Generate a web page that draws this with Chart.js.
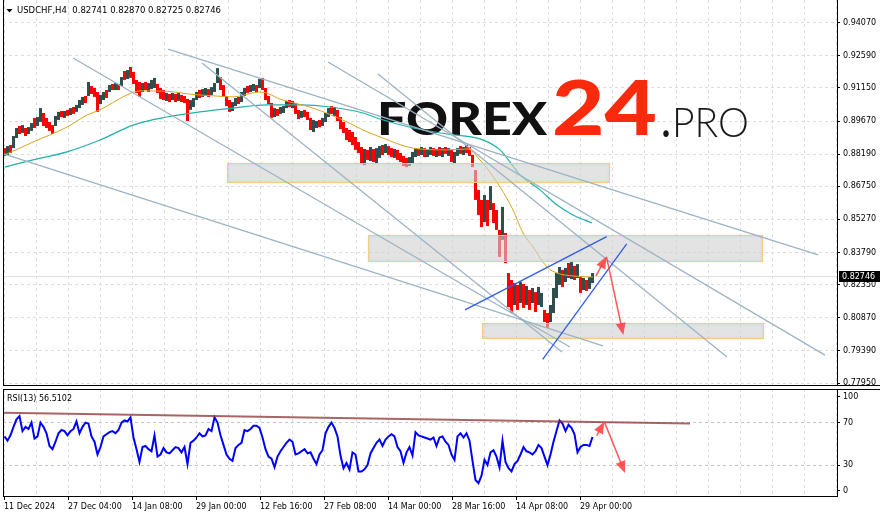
<!DOCTYPE html>
<html>
<head>
<meta charset="utf-8">
<script src="https://cdn.jsdelivr.net/npm/chart.js@4.4.1/dist/chart.umd.min.js"></script>
<style>
  html, body { margin: 0; padding: 0; background: #fff; }
  #wrap { position: relative; width: 883px; height: 518px; overflow: hidden; }
  canvas { position: absolute; left: 0; }
  #main { top: 0; }
  #rsi { top: 386px; }
</style>
</head>
<body>
<div id="wrap">
  <canvas id="main" width="883" height="388"></canvas>
  <canvas id="rsi" width="883" height="132"></canvas>
</div>
<script>
// USDCHF H4 - one slot = 3 H4 bars
const headerText = 'USDCHF,H4  0.82741 0.82870 0.82725 0.82746';
const rsiTitle = 'RSI(13) 56.5102';
const lastPrice = 0.82746;
const barsPerSlot = 3;

const timeLabels = ['11 Dec 2024', '27 Dec 04:00', '14 Jan 08:00', '29 Jan 00:00', '12 Feb 16:00',
  '27 Feb 08:00', '14 Mar 00:00', '28 Mar 16:00', '14 Apr 08:00', '29 Apr 00:00'];
const priceTicks = [0.94070, 0.92590, 0.91150, 0.89670, 0.88190, 0.86750, 0.85270, 0.83790,
  0.82350, 0.80870, 0.79390, 0.77950];
const rsiLevels = [100, 70, 30, 0];

const highs = [
  0.8846,0.8855,0.8860,0.8900,0.8936,0.8945,0.8949,0.8936,0.8940,0.8958,
  0.8981,0.8985,0.9025,0.9003,0.8981,0.8963,0.8949,0.8990,0.9008,0.9012,
  0.9012,0.9017,0.9025,0.9030,0.9039,0.9061,0.9075,0.9079,0.9142,0.9124,
  0.9115,0.9097,0.9084,0.9097,0.9106,0.9128,0.9133,0.9137,0.9133,0.9164,
  0.9191,0.9195,0.9209,0.9187,0.9151,0.9142,0.9137,0.9142,0.9137,0.9151,
  0.9160,0.9133,0.9115,0.9106,0.9093,0.9088,0.9093,0.9088,0.9093,0.9084,
  0.9079,0.9066,0.9061,0.9070,0.9097,0.9106,0.9110,0.9115,0.9110,0.9119,
  0.9137,0.9204,0.9164,0.9128,0.9079,0.9061,0.9052,0.9070,0.9075,0.9097,
  0.9115,0.9124,0.9128,0.9133,0.9128,0.9155,0.9160,0.9115,0.9079,0.9048,
  0.9025,0.9021,0.9030,0.9034,0.9057,0.9061,0.9057,0.9048,0.9017,0.9012,
  0.9017,0.9008,0.8981,0.8972,0.8967,0.8972,0.8981,0.9003,0.9025,0.9034,
  0.9030,0.9017,0.8985,0.8963,0.8936,0.8927,0.8918,0.8896,0.8873,0.8851,
  0.8842,0.8838,0.8851,0.8842,0.8846,0.8855,0.8860,0.8864,0.8855,0.8846,
  0.8842,0.8838,0.8824,0.8811,0.8802,0.8806,0.8829,0.8846,0.8842,0.8851,
  0.8846,0.8842,0.8851,0.8846,0.8842,0.8851,0.8846,0.8851,0.8846,0.8838,
  0.8829,0.8846,0.8855,0.8851,0.8860,0.8851,0.8815,0.8748,0.8659,0.8614,
  0.8636,0.8614,0.8676,0.8600,0.8569,0.8480,0.8583,0.8466,0.8287,0.8256,
  0.8242,0.8234,0.8247,0.8238,0.8229,0.8211,0.8220,0.8202,0.8225,0.8198,
  0.8122,0.8108,0.8144,0.8220,0.8287,0.8314,0.8301,0.8310,0.8332,0.8336,
  0.8319,0.8327,0.8269,0.8265,0.8256,0.8269,0.8287];
const lows = [
  0.8811,0.8815,0.8824,0.8846,0.8891,0.8909,0.8914,0.8900,0.8909,0.8923,
  0.8936,0.8945,0.8963,0.8945,0.8936,0.8923,0.8909,0.8945,0.8972,0.8985,
  0.8981,0.8990,0.8994,0.8999,0.9008,0.9025,0.9039,0.9048,0.9079,0.9088,
  0.9075,0.9008,0.9043,0.9061,0.9070,0.9097,0.9106,0.9106,0.9106,0.9124,
  0.9151,0.9155,0.9160,0.9133,0.9093,0.9075,0.9097,0.9106,0.9097,0.9110,
  0.9115,0.9093,0.9066,0.9061,0.9057,0.9052,0.9061,0.9052,0.9057,0.9052,
  0.9048,0.8967,0.9017,0.9030,0.9061,0.9070,0.9075,0.9079,0.9075,0.9084,
  0.9097,0.9137,0.9106,0.9075,0.9034,0.9008,0.9012,0.9034,0.9043,0.9052,
  0.9079,0.9093,0.9097,0.9102,0.9097,0.9115,0.9106,0.9061,0.9043,0.8981,
  0.8985,0.8990,0.8999,0.9003,0.9025,0.9030,0.9025,0.8999,0.8976,0.8981,
  0.8985,0.8972,0.8927,0.8918,0.8936,0.8940,0.8945,0.8963,0.8985,0.8999,
  0.8990,0.8967,0.8931,0.8914,0.8882,0.8873,0.8860,0.8838,0.8824,0.8779,
  0.8770,0.8793,0.8788,0.8784,0.8779,0.8802,0.8815,0.8824,0.8815,0.8806,
  0.8802,0.8793,0.8784,0.8766,0.8761,0.8766,0.8779,0.8806,0.8811,0.8815,
  0.8806,0.8806,0.8815,0.8811,0.8806,0.8811,0.8806,0.8820,0.8811,0.8784,
  0.8779,0.8811,0.8820,0.8815,0.8824,0.8811,0.8761,0.8614,0.8547,0.8493,
  0.8515,0.8497,0.8569,0.8511,0.8480,0.8359,0.8435,0.8332,0.8135,0.8108,
  0.8144,0.8122,0.8153,0.8131,0.8144,0.8122,0.8153,0.8113,0.8144,0.8135,
  0.8068,0.8041,0.8068,0.8108,0.8175,0.8234,0.8225,0.8247,0.8265,0.8260,
  0.8256,0.8265,0.8198,0.8211,0.8207,0.8216,0.8242];
// u = bull (dark), d = bear (red)
const candleDir =
  'duduududuu' + 'duudddduud' + 'ududuuudud' + 'dduudududu' + 'dudddduduu' +
  'udddududud' + 'dduuuduudu' + 'uudddduudu' + 'uduududddd' + 'uduuududdu' +
  'ddduuduuud' + 'uddddddddd' + 'ududuududd' + 'udddduuudu' + 'duudududud' +
  'uududddddd' + 'ududdduddd' + 'ududududuu' + 'dduuuududu' + 'dududuu';

const rsi = [
  57,53,58,66,73,76,62,66,64,70, 55,57,70,66,60,48,45,52,60,63,
  62,58,62,64,71,60,66,70,69,57, 52,40,47,57,59,61,62,60,63,70,
  72,71,75,56,45,33,47,48,45,43, 58,38,40,46,42,41,44,47,46,42,
  47,31,51,53,56,60,57,58,64,62, 75,70,58,49,40,36,34,46,49,51,
  63,62,64,67,67,65,56,45,38,36, 28,38,43,47,51,54,52,40,41,43,
  45,41,42,36,31,40,44,60,66,70, 65,57,39,27,32,26,42,40,24,24,
  26,30,41,46,51,54,48,54,57,59, 57,47,43,32,42,47,39,61,58,57,
  56,55,54,56,48,56,57,52,49,40, 35,57,60,56,60,53,34,16,13,20,
  35,30,42,44,38,28,53,33,27,24, 31,34,40,47,43,42,40,43,49,46,
  38,30,40,52,62,72,69,62,68,65, 59,42,47,49,49,48,56.5];

// moving averages, [bar, price]
const maFast = [[0,0.8815],[28.5,0.8873],[62.5,0.8940],[82.5,0.8994],[95.5,0.9017],[122.5,0.9084],
  [135.5,0.9102],[162.5,0.9100],[188.5,0.9086],[208.5,0.9080],[228.5,0.9075],[255.5,0.9097],
  [278.5,0.9061],[308.5,0.9025],[342.5,0.8963],[358.5,0.8927],[375.5,0.8896],[408.5,0.8846],
  [442.5,0.8838],[462.5,0.8842],[475.5,0.8793],[495.5,0.8672],[508.5,0.8569],[518.5,0.8466],
  [528.5,0.8404],[542.5,0.8314],[552.5,0.8287],[568.5,0.8274],[588.5,0.8269]];
const maSlow = [[0,0.8761],[28.5,0.8793],[62.5,0.8829],[95.5,0.8882],[128.5,0.8949],[162.5,0.8985],
  [195.5,0.9008],[228.5,0.9025],[262.5,0.9039],[295.5,0.9039],[325.5,0.9030],[358.5,0.9003],
  [375.5,0.8976],[408.5,0.8936],[442.5,0.8909],[475.5,0.8887],[495.5,0.8838],[515.5,0.8726],
  [535.5,0.8659],[552.5,0.8591],[568.5,0.8547],[587.5,0.8511]];

// drawn objects: [fromBar, price/value, toBar, price/value]
const zones = [[222, 0.8778, 605.5, 0.8689], [363.8, 0.8457, 758.2, 0.8338], [477.8, 0.8062, 759.8, 0.7991]];
const trendLines = [[-1, 0.8820, 598.5, 0.7961], [68.5, 0.9249, 565.5, 0.7956], [197.5, 0.9227, 557.5, 0.7934],
  [163.5, 0.9289, 813.5, 0.8368], [323.5, 0.9231, 820.5, 0.7920], [373.5, 0.9178, 722.5, 0.7911]];
const channelLines = [[460.5, 0.8122, 602.2, 0.8450], [538.2, 0.7901, 622.2, 0.8417]];
const priceArrows = [[591.5, 0.8274, 602, 0.8361], [602, 0.8359, 618.8, 0.8010]];
const rsiTrend = [-1, 79.3, 685.5, 69.1];
const rsiArrows = [[592.2, 57.8, 599.8, 70.9], [599.8, 70.9, 620.5, 22.5]];

const font = { family: 'DejaVu Sans', size: 8 };
const gridColor = '#dedede';
const xTicks = [];
for (let k = 0; k <= 26; k++) xTicks.push(k * 32 - 0.5);

function noPad(s) { s.paddingTop = 0; s.paddingBottom = 0; s.paddingLeft = 0; s.paddingRight = 0; }

function seg(ctx, sx, sy, l) {
  ctx.beginPath();
  ctx.moveTo(sx.getPixelForValue(l[0]), sy.getPixelForValue(l[1]));
  ctx.lineTo(sx.getPixelForValue(l[2]), sy.getPixelForValue(l[3]));
  ctx.stroke();
}

function arrow(ctx, sx, sy, l) {
  const x1 = sx.getPixelForValue(l[0]), y1 = sy.getPixelForValue(l[1]);
  const x2 = sx.getPixelForValue(l[2]), y2 = sy.getPixelForValue(l[3]);
  const a = Math.atan2(y2 - y1, x2 - x1), L = 12, W = 5;
  ctx.beginPath();
  ctx.moveTo(x1, y1);
  ctx.lineTo(x2 - Math.cos(a) * L * 0.7, y2 - Math.sin(a) * L * 0.7);
  ctx.stroke();
  ctx.beginPath();
  ctx.moveTo(x2, y2);
  ctx.lineTo(x2 - L * Math.cos(a) + W * Math.sin(a), y2 - L * Math.sin(a) - W * Math.cos(a));
  ctx.lineTo(x2 - L * Math.cos(a) - W * Math.sin(a), y2 - L * Math.sin(a) + W * Math.cos(a));
  ctx.closePath();
  ctx.fill();
}

function fitText(ctx, s, x, y, w) {
  const m = ctx.measureText(s).width;
  ctx.save();
  ctx.translate(x, y);
  ctx.scale(w / m, 1);
  ctx.fillText(s, 0, 0);
  ctx.restore();
}

const mainOverlay = {
  id: 'mainOverlay',
  beforeDatasetsDraw(chart) {
    const { ctx, chartArea: a, scales: { y } } = chart;
    ctx.save();
    // bid line
    const py = Math.round(y.getPixelForValue(lastPrice)) + 0.5;
    ctx.strokeStyle = '#e0e0e0';
    ctx.lineWidth = 1;
    ctx.beginPath(); ctx.moveTo(a.left, py); ctx.lineTo(a.right, py); ctx.stroke();
    // logo
    ctx.textBaseline = 'alphabetic';
    ctx.fillStyle = '#111';
    ctx.font = '900 46px Lato';
    fitText(ctx, 'FOREX', 377, 135, 170);
    ctx.fillStyle = '#fa2a0c';
    ctx.font = '900 76px Lato';
    fitText(ctx, '24', 552, 135, 105);
    ctx.fillStyle = '#1a1a1a';
    ctx.font = '900 42px Lato';
    fitText(ctx, '.', 662, 137, 8);
    ctx.font = '300 42px Lato';
    fitText(ctx, 'PRO', 672, 137, 77);
    ctx.restore();
  },
  afterDatasetsDraw(chart) {
    const { ctx, scales: { x, y } } = chart;
    ctx.save();
    zones.forEach(z => {
      const x1 = Math.round(x.getPixelForValue(z[0])), x2 = Math.round(x.getPixelForValue(z[2]));
      const y1 = Math.round(y.getPixelForValue(z[1])), y2 = Math.round(y.getPixelForValue(z[3]));
      ctx.fillStyle = 'rgba(208,208,208,0.6)';
      ctx.fillRect(x1, y1, x2 - x1, y2 - y1);
      ctx.shadowColor = 'rgba(0,0,0,0.12)';
      ctx.shadowBlur = 3;
      ctx.strokeStyle = '#f3cd80';
      ctx.lineWidth = 1;
      ctx.strokeRect(x1 + 0.5, y1 + 0.5, x2 - x1 - 1, y2 - y1 - 1);
      ctx.shadowColor = 'transparent';
      ctx.shadowBlur = 0;
    });
    ctx.strokeStyle = '#9db3c3';
    ctx.lineWidth = 1.3;
    trendLines.forEach(l => seg(ctx, x, y, l));
    ctx.strokeStyle = '#2f5cf0';
    channelLines.forEach(l => seg(ctx, x, y, l));
    ctx.strokeStyle = 'rgba(255,70,70,0.9)';
    ctx.fillStyle = 'rgba(255,70,70,0.9)';
    ctx.lineWidth = 1.5;
    priceArrows.forEach(l => arrow(ctx, x, y, l));
    ctx.restore();
  },
  afterDraw(chart) {
    const { ctx, chartArea: a, scales: { y } } = chart;
    ctx.save();
    ctx.strokeStyle = '#000';
    ctx.lineWidth = 1;
    ctx.beginPath();
    ctx.moveTo(a.left + 0.5, 0); ctx.lineTo(a.left + 0.5, a.bottom);
    ctx.moveTo(a.right + 0.5, 0); ctx.lineTo(a.right + 0.5, a.bottom);
    ctx.moveTo(a.left, a.bottom - 0.5); ctx.lineTo(880, a.bottom - 0.5);
    ctx.stroke();
    // price tag
    const py = y.getPixelForValue(lastPrice);
    ctx.fillStyle = '#000';
    ctx.fillRect(a.right + 2, Math.round(py) - 5, 41, 11);
    ctx.fillStyle = '#fff';
    ctx.font = '8px "DejaVu Sans"';
    ctx.textBaseline = 'middle';
    ctx.fillText(lastPrice.toFixed(5), a.right + 5, Math.round(py) + 0.5);
    // header
    ctx.fillStyle = '#000';
    ctx.beginPath(); ctx.moveTo(6.5, 9); ctx.lineTo(12.5, 9); ctx.lineTo(9.5, 12.5); ctx.closePath(); ctx.fill();
    ctx.font = '8.5px "DejaVu Sans"';
    ctx.fillText(headerText, 17, 10.5);
    ctx.restore();
  }
};

const rsiOverlay = {
  id: 'rsiOverlay',
  afterDatasetsDraw(chart) {
    const { ctx, scales: { x, y } } = chart;
    ctx.save();
    ctx.strokeStyle = 'rgba(140,50,50,0.75)';
    ctx.lineWidth = 2;
    seg(ctx, x, y, rsiTrend);
    ctx.strokeStyle = 'rgba(255,70,70,0.9)';
    ctx.fillStyle = 'rgba(255,70,70,0.9)';
    ctx.lineWidth = 1.5;
    rsiArrows.forEach(l => arrow(ctx, x, y, l));
    ctx.restore();
  },
  afterDraw(chart) {
    const { ctx, chartArea: a } = chart;
    ctx.save();
    ctx.strokeStyle = '#000';
    ctx.lineWidth = 1;
    ctx.beginPath();
    ctx.moveTo(a.left, a.top + 0.5); ctx.lineTo(880, a.top + 0.5);
    ctx.moveTo(a.left + 0.5, a.top); ctx.lineTo(a.left + 0.5, a.bottom);
    ctx.moveTo(a.right + 0.5, a.top); ctx.lineTo(a.right + 0.5, a.bottom);
    ctx.moveTo(a.left, a.bottom - 0.5); ctx.lineTo(a.right + 1, a.bottom - 0.5);
    ctx.stroke();
    ctx.fillStyle = '#000';
    ctx.font = '8px "DejaVu Sans"';
    ctx.textBaseline = 'middle';
    ctx.fillText(rsiTitle, 7, a.top + 10);
    ctx.restore();
  }
};

const candleData = highs.map((h, i) => ({ x: i * barsPerSlot, y: [lows[i], h] }));
const candleColors = highs.map((h, i) => candleDir[i] === 'u' ? '#2f4f4f' : '#ff0000');

new Chart(document.getElementById('main'), {
  type: 'bar',
  data: {
    datasets: [
      { type: 'line', data: maFast.map(p => ({ x: p[0], y: p[1] })), borderColor: '#daa520', borderWidth: 1,
        pointRadius: 0, cubicInterpolationMode: 'monotone', order: 0 },
      { type: 'line', data: maSlow.map(p => ({ x: p[0], y: p[1] })), borderColor: '#20b2aa', borderWidth: 1.2,
        pointRadius: 0, cubicInterpolationMode: 'monotone', order: 0 },
      { type: 'bar', data: candleData, backgroundColor: candleColors, barThickness: 3, grouped: false,
        inflateAmount: 0, borderWidth: 0, order: 1 }
    ]
  },
  options: {
    responsive: false,
    animation: false,
    events: [],
    layout: { padding: { left: 3, right: 0, top: 0, bottom: 2 } },
    plugins: { legend: { display: false }, tooltip: { enabled: false } },
    scales: {
      x: {
        type: 'linear', min: -1.5, max: 832.5, offset: false,
        afterBuildTicks: s => { s.ticks = xTicks.map(v => ({ value: v })); },
        afterFit: s => { s.height = 0; noPad(s); },
        ticks: { display: false },
        grid: { color: gridColor, drawTicks: false, offset: false },
        border: { display: false, dash: [3, 3] }
      },
      y: {
        position: 'right', min: 0.77816, max: 0.95086,
        afterBuildTicks: s => { s.ticks = priceTicks.map(v => ({ value: v })); },
        afterFit: s => { s.width = 46; noPad(s); },
        ticks: { autoSkip: false, font: font, color: '#000', padding: 3, callback: v => v.toFixed(5) },
        grid: { color: gridColor, tickColor: '#000', tickLength: 3 },
        border: { display: false, dash: [3, 3] }
      }
    }
  },
  plugins: [mainOverlay]
});

new Chart(document.getElementById('rsi'), {
  type: 'line',
  data: {
    datasets: [{ data: rsi.map((v, i) => ({ x: i * barsPerSlot, y: v })), borderColor: '#0000ff',
      borderWidth: 2, pointRadius: 0, tension: 0 }]
  },
  options: {
    responsive: false,
    animation: false,
    events: [],
    layout: { padding: { left: 3, right: 0, top: 3, bottom: 0 } },
    plugins: { legend: { display: false }, tooltip: { enabled: false } },
    scales: {
      x: {
        type: 'linear', min: -1.5, max: 832.5, offset: false,
        afterBuildTicks: s => { s.ticks = xTicks.map(v => ({ value: v })); },
        afterFit: s => { s.height = 21; noPad(s); },
        ticks: { autoSkip: false, maxRotation: 0, align: 'start', padding: 2, font: font, color: '#000',
          callback: (v, i) => (i % 2 === 0 && timeLabels[i / 2]) || '' },
        grid: { color: gridColor, tickLength: 3, offset: false,
          tickColor: c => (c.index % 2 === 0 && c.index / 2 < timeLabels.length) ? '#000' : 'rgba(0,0,0,0)' },
        border: { display: false, dash: [3, 3] }
      },
      y: {
        position: 'right', min: 0, max: 101.6,
        // MT4 pulls the 100 / 0 captions inside the window
        afterBuildTicks: s => { s.ticks = rsiLevels.map(v => ({ value: v === 100 ? 94.4 : v === 0 ? 5.9 : v })); },
        afterFit: s => { s.width = 46; noPad(s); },
        ticks: { autoSkip: false, font: font, color: '#000', padding: 3, callback: (v, i) => String(rsiLevels[i]) },
        grid: { tickColor: '#000', tickLength: 3,
          color: c => (c.tick && (c.tick.value === 70 || c.tick.value === 30)) ? '#c4c4c4' : 'rgba(0,0,0,0)' },
        border: { display: false, dash: [3, 3] }
      }
    }
  },
  plugins: [rsiOverlay]
});
</script>
</body>
</html>
